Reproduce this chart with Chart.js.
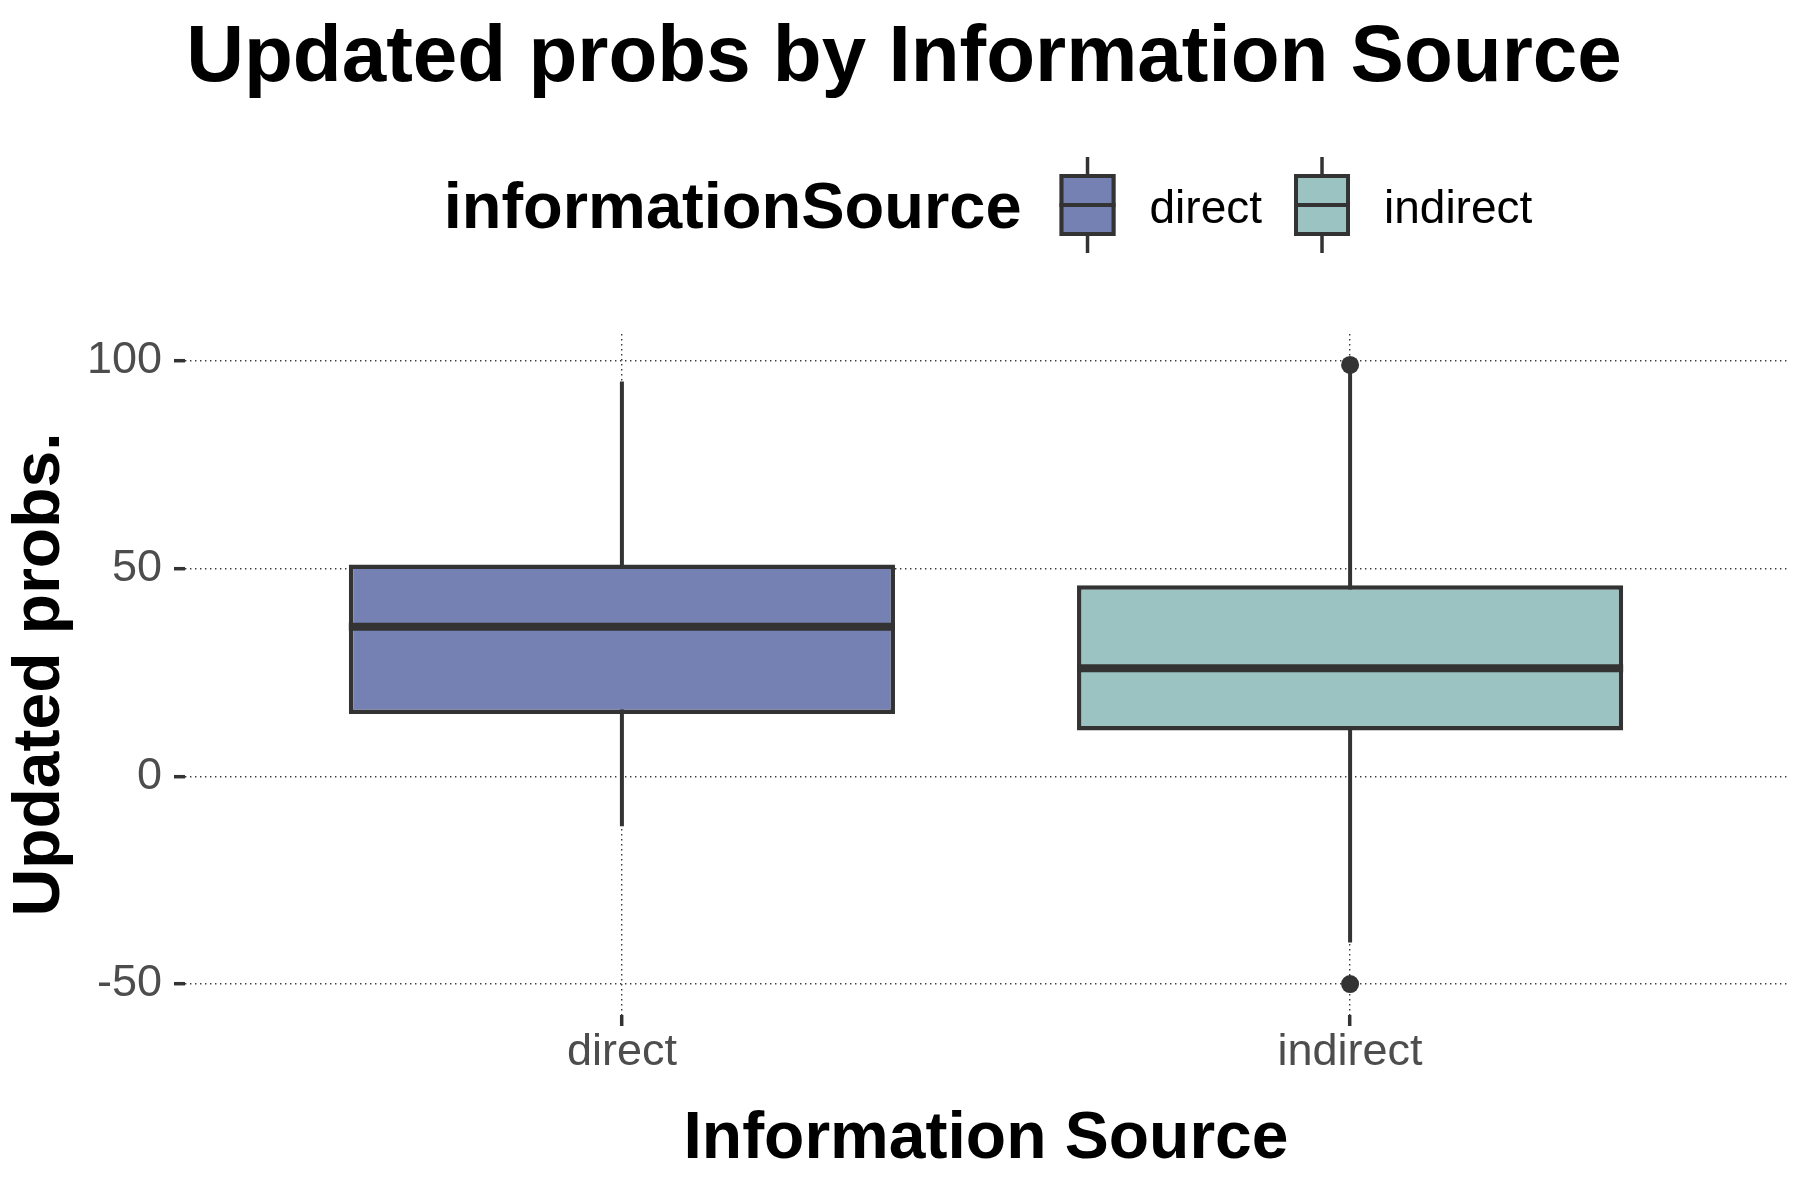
<!DOCTYPE html>
<html>
<head>
<meta charset="utf-8">
<script src="https://cdn.jsdelivr.net/npm/chart.js@4.4.0/dist/chart.umd.min.js"></script>
<style>
html, body { margin: 0; padding: 0; background: #ffffff; }
#wrap { width: 1800px; height: 1200px; position: relative; }
</style>
</head>
<body>
<div id="wrap"><canvas id="c"></canvas></div>
<script>
// ---- data ----
const categories = ['direct', 'indirect'];
const lowerWhisker = [-12, -40];
const q1 = [15, 11];
const median = [36, 26];
const q3 = [51, 46];
const upperWhisker = [95, 98];
const outlierGroups = ['indirect', 'indirect'];
const outlierValues = [99, -50];
const yTicks = [-50, 0, 50, 100];
const boxColors = ['#7581B2', '#9AC3C2'];

// ---- styling ----
const FONT = "'Liberation Sans', Arial, Helvetica, sans-serif";
const INK = '#333333';
const xIndex = g => categories.indexOf(g);
const boxHalf = ctx => {
  const s = ctx.chart.scales.x;
  return Math.abs(s.getPixelForValue(1) - s.getPixelForValue(0)) * 0.75 / 2;
};

const legendPlugin = {
  id: 'boxLegend',
  afterDraw(chart) {
    const ctx = chart.ctx;
    const area = chart.chartArea;
    ctx.save();
    const titleFont = `bold 65px ${FONT}`;
    const labelFont = `46px ${FONT}`;
    ctx.font = titleFont;
    const tw = ctx.measureText('informationSource').width;
    ctx.font = labelFont;
    const lw = categories.map(c => ctx.measureText(c).width);
    const gapTitle = 38, keyW = 56, gapLabel = 34, gapItem = 32;
    let total = tw + gapTitle;
    categories.forEach((c, i) => {
      total += keyW + gapLabel + lw[i] + (i < categories.length - 1 ? gapItem : 0);
    });
    let x = (area.left + area.right) / 2 - total / 2 + 2;
    ctx.textBaseline = 'alphabetic';
    ctx.textAlign = 'left';
    ctx.fillStyle = '#000';
    ctx.font = titleFont;
    ctx.fillText('informationSource', x, 228);
    x += tw + gapTitle;
    categories.forEach((c, i) => {
      const cx = x + keyW / 2;
      ctx.strokeStyle = INK;
      ctx.lineWidth = 3.5;
      ctx.beginPath(); ctx.moveTo(cx, 157); ctx.lineTo(cx, 253); ctx.stroke();
      ctx.fillStyle = boxColors[i];
      ctx.fillRect(x, 174, keyW, 62);
      ctx.lineWidth = 4;
      ctx.strokeRect(x + 2, 176, keyW - 4, 58);
      ctx.beginPath(); ctx.moveTo(x, 205); ctx.lineTo(x + keyW, 205); ctx.stroke();
      ctx.fillStyle = '#000';
      ctx.font = labelFont;
      ctx.fillText(c, x + keyW + gapLabel, 223);
      x += keyW + gapLabel + lw[i] + gapItem;
    });
    ctx.restore();
  }
};

const gridCommon = { color: '#3a3a3a', lineWidth: 1.4, tickLength: 11, tickWidth: 3.5, tickColor: INK, offset: false };

new Chart(document.getElementById('c'), {
  type: 'bar',
  data: {
    datasets: [
      {
        label: 'whisker', type: 'bar',
        data: categories.map((c, i) => ({ x: i, y: [lowerWhisker[i], upperWhisker[i]] })),
        backgroundColor: INK, borderWidth: 0, grouped: false, maxBarThickness: 4, order: 4
      },
      {
        label: 'box', type: 'bar',
        data: categories.map((c, i) => ({ x: i, y: [q1[i], q3[i]] })),
        backgroundColor: boxColors, borderColor: INK, borderWidth: 4.5, borderSkipped: false,
        grouped: false, barPercentage: 0.75, categoryPercentage: 1, order: 3
      },
      {
        label: 'median', type: 'line',
        data: categories.map((c, i) => ({ x: i, y: median[i] })),
        showLine: false, pointStyle: 'line', pointRadius: boxHalf, pointHoverRadius: boxHalf,
        pointBorderWidth: 8, pointBorderColor: INK, order: 2
      },
      {
        label: 'outliers', type: 'line',
        data: outlierGroups.map((g, i) => ({ x: xIndex(g), y: outlierValues[i] })),
        showLine: false, pointStyle: 'circle', pointRadius: 9, pointBackgroundColor: INK,
        pointBorderColor: INK, pointBorderWidth: 0, order: 1
      }
    ]
  },
  options: {
    responsive: true, maintainAspectRatio: false, animation: false, devicePixelRatio: 1,
    layout: { padding: { left: 21, right: 13, top: 0, bottom: 0 } },
    plugins: {
      legend: { display: false },
      tooltip: { enabled: false },
      title: {
        display: true, text: 'Updated probs by Information Source', color: '#000000',
        font: { family: FONT, size: 80, weight: 'bold', lineHeight: 1.2 },
        padding: { top: 11, bottom: 227 }
      }
    },
    scales: {
      x: {
        type: 'linear', min: -0.6, max: 1.6, offset: false,
        afterBuildTicks: s => { s.ticks = categories.map((c, i) => ({ value: i })); },
        ticks: {
          callback: v => categories[v] ?? '', font: { family: FONT, size: 45 }, color: '#4D4D4D',
          padding: 0, autoSkip: false, maxRotation: 0
        },
        grid: gridCommon,
        border: { display: false, dash: [1.4, 3.6] },
        title: {
          display: true, text: 'Information Source', color: '#000000',
          font: { family: FONT, size: 66, weight: 'bold', lineHeight: 1.2 },
          padding: { top: 0, bottom: 21 }
        },
        afterFit: s => { s.height = 185; }
      },
      y: {
        type: 'linear', min: -57.45, max: 106.45,
        afterBuildTicks: s => { s.ticks = yTicks.map(v => ({ value: v })); },
        ticks: { font: { family: FONT, size: 45, lineHeight: 1 }, color: '#4D4D4D', padding: 12 },
        grid: gridCommon,
        border: { display: false, dash: [1.4, 3.6] },
        title: {
          display: true, text: 'Updated probs.', color: '#000000',
          font: { family: FONT, size: 66, weight: 'bold', lineHeight: 0.6 },
          padding: 0
        },
        afterFit: s => { s.width = 164; }
      }
    }
  },
  plugins: [legendPlugin]
});
</script>
</body>
</html>
